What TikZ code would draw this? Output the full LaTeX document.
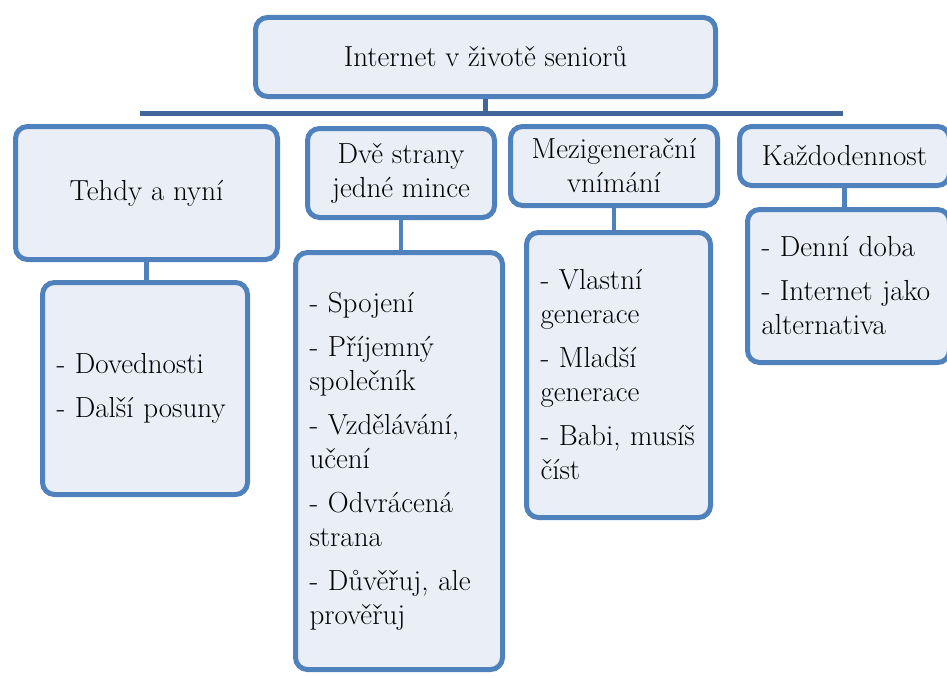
\documentclass[tikz,border=0pt]{standalone}
\usepackage{tikz}
\usepackage{xcolor}
\definecolor{boxblue}{HTML}{4F81BD}
\definecolor{boxfill}{HTML}{EAEFF7}
\definecolor{barblue}{HTML}{41679A}

\begin{document}
\begin{tikzpicture}[x=1pt,y=-1pt,
	box/.style={draw=boxblue,fill=boxfill,line width=5pt,rounded corners=12pt,
		inner sep=0pt,align=center,font=\fontsize{29}{34}\selectfont},
	listbox/.style={box,align=left,inner xsep=14pt},
	link/.style={draw=boxblue,line width=4.5pt},
	bar/.style={draw=barblue,line width=5pt}]
	% fix the page size
	\useasboundingbox (0,0) rectangle (947,677);

	% the main box and the horizontal bar
	\node[box,minimum width=460pt,minimum height=79pt] (top) at (485.5,57) {Internet v životě seniorů};
	\coordinate (bl) at (140,113);
	\coordinate (br) at (843,113);

	% the four category boxes
	\node[box,minimum width=262pt,minimum height=133pt] (c1) at (146.5,193) {Tehdy a nyní};
	\node[box,minimum width=187pt,minimum height=89pt] (c2) at (401,173) {Dvě strany\\jedné mince};
	\node[box,minimum width=207pt,minimum height=79pt] (c3) at (614,166) {Mezigenerační\\vnímání};
	\node[box,minimum width=210pt,minimum height=59pt] (c4) at (844.5,156) {Každodennost};

	% the lists below them
	\node[listbox,text width=177pt,minimum height=212pt] (s1) at (145,388.5)
		{- Dovednosti\\[10pt] - Další posuny};
	\node[listbox,text width=179pt,minimum height=417pt] (s2) at (399,461)
		{- Spojení\\[10pt] - Příjemný\\společník\\[10pt] - Vzdělávání,\\učení\\[10pt]
		 - Odvrácená\\strana\\[10pt] - Důvěřuj, ale\\prověřuj};
	\node[listbox,text width=156pt,minimum height=285pt] (s3) at (618.5,375)
		{- Vlastní\\generace\\[10pt] - Mladší\\generace\\[10pt] - Babi, musíš\\číst};
	\node[listbox,text width=174pt,minimum height=153pt] (s4) at (848.5,286)
		{- Denní doba\\[10pt] - Internet jako\\alternativa};

	% connectors
	\draw[bar] (bl) -- (br);
	\draw[bar] (top.south) -- (top.south |- bl);
	\draw[link] (c1.south) -- (c1.south |- s1.north);
	\draw[link] (c2.south) -- (c2.south |- s2.north);
	\draw[link] (c3.south) -- (c3.south |- s3.north);
	\draw[link] (c4.south) -- (c4.south |- s4.north);
\end{tikzpicture}
\end{document}
